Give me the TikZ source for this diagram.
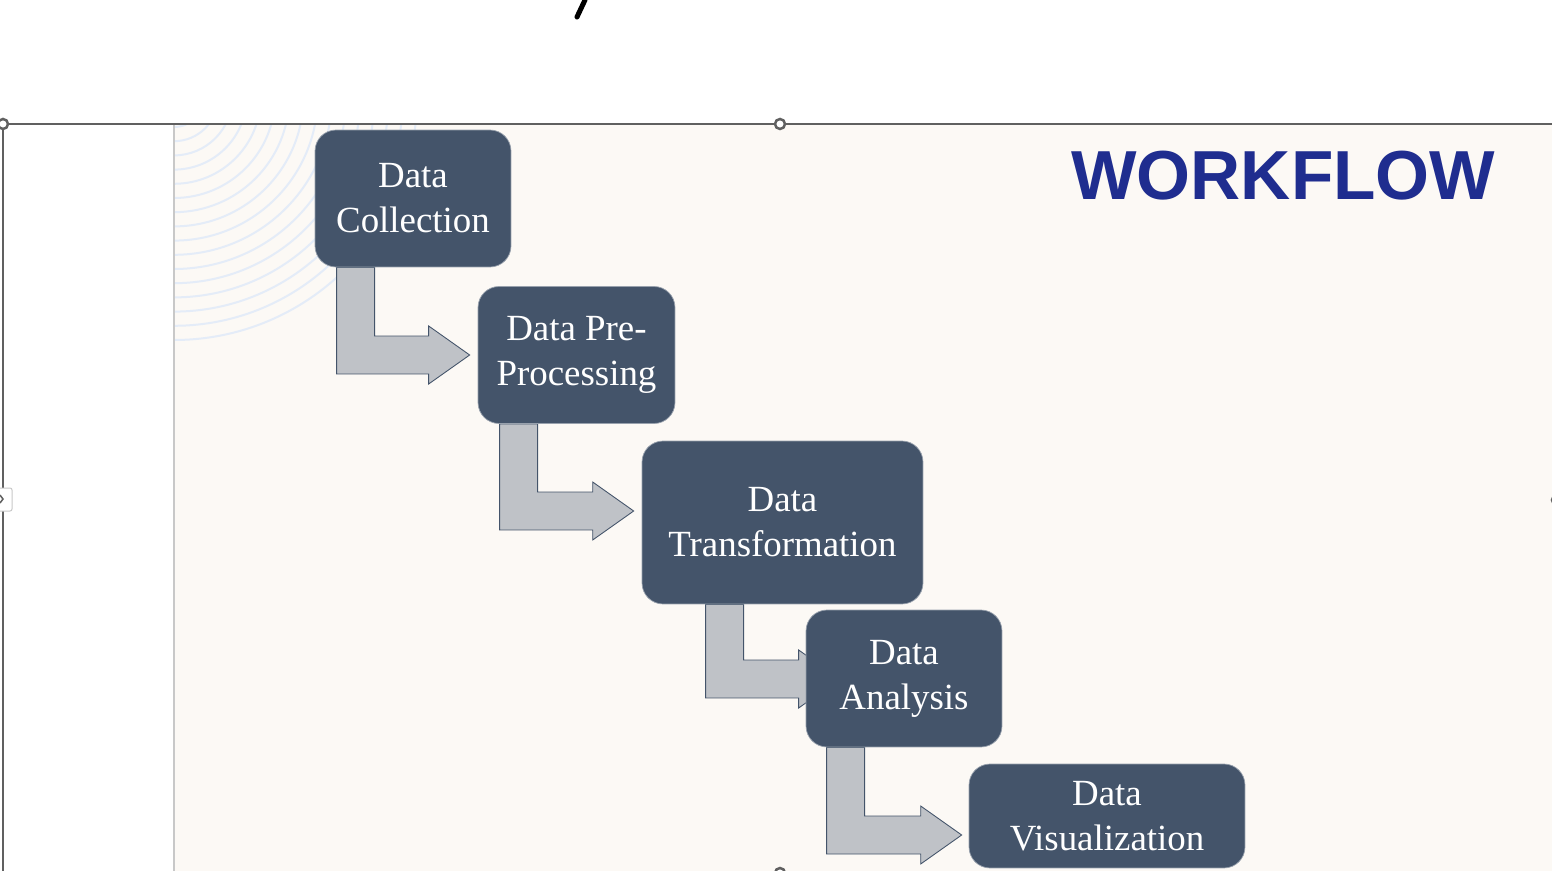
\documentclass[tikz,border=0pt]{standalone}
\usepackage{fontspec}
\setmainfont{Liberation Serif}
\newfontfamily\titlefont{Liberation Sans}
\usetikzlibrary{calc}

\definecolor{slidebg}{RGB}{252,249,245}
\definecolor{boxfill}{RGB}{68,84,106}
\definecolor{arrowfill}{RGB}{191,194,199}
\definecolor{titleblue}{RGB}{31,45,143}
\definecolor{arcblue}{RGB}{228,236,248}
\definecolor{framegray}{RGB}{96,96,96}
\definecolor{edgegray}{RGB}{200,200,200}

\pgfdeclarelayer{back}
\pgfdeclarelayer{arrows}
\pgfsetlayers{back,arrows,main}

\tikzset{
  stagebox/.style={draw=boxfill!55!white, line width=0.4pt, fill=boxfill,
    rounded corners=0.42cm, text=white, align=center, inner sep=0pt,
    font=\fontsize{21}{25.5}\selectfont},
  flowarrow/.style={draw=boxfill, line width=0.5pt, fill=arrowfill},
  handle/.style={draw=framegray, line width=0.05cm, fill=white}
}

% bent arrow: from box, to box, bar offset, tip shift x, tip shift y
\newcommand\bentarrow[5]{%
  \path (#1.south west) ++(#3,0) coordinate (bar) (#2.west) ++(#4,#5) coordinate (tip);%
  \draw[flowarrow] let \p1=(bar), \p2=(tip) in
    (\x1,\y1) -- (\x1,{\y2-0.38cm}) -- ({\x2-0.82cm},{\y2-0.38cm})
    -- ({\x2-0.82cm},{\y2-0.58cm}) -- (\x2,\y2) -- ({\x2-0.82cm},{\y2+0.58cm})
    -- ({\x2-0.82cm},{\y2+0.38cm}) -- ({\x1+0.76cm},{\y2+0.38cm})
    -- ({\x1+0.76cm},\y1) -- cycle;%
}

\begin{document}
\begin{tikzpicture}[x=0.02cm,y=-0.02cm]
            \useasboundingbox (0,0) rectangle (1552,871);

            % Drawing slide and frame
            \begin{pgfonlayer}{back}
            \fill[white] (0,0) rectangle (1552,871);
            \fill[slidebg] (174,124) rectangle (1552,871);
            \begin{scope}
            \clip (174,124) rectangle (1552,871);
            \foreach \r in {0,...,15}
              \draw[arcblue, line width=0.04cm] (174,97) circle [radius={(30+14.2*\r)*0.02cm}];
            \end{scope}
            \draw[edgegray, line width=0.03cm] (174,124) -- (174,871);%
            \draw[framegray, line width=0.03cm] (0,124) -- (1552,124);%
            \draw[framegray, line width=0.03cm] (3,124) -- (3,871);%
            \end{pgfonlayer}

            % Drawing stray glyph at top
            \draw[line width=0.1cm, line cap=round] (585,0) -- (577,17);%

            % Drawing stage boxes
            \node[stagebox, minimum width=3.92cm, minimum height=2.74cm] (collect) at (413,198.5) {Data\\Collection};
            \node[stagebox, minimum width=3.94cm, minimum height=2.74cm] (prep) at (576.5,355) {Data Pre-\\Processing};
            \node[stagebox, minimum width=5.62cm, minimum height=3.26cm] (transf) at (782.5,522.5) {Data\\Transformation};
            \node[stagebox, minimum width=3.92cm, minimum height=2.74cm] (analys) at (904,678.5) {Data\\Analysis};
            \node[stagebox, minimum width=5.52cm, minimum height=2.08cm] (visual) at (1107,816) {Data\\Visualization};

            % Drawing bent arrows
            \begin{pgfonlayer}{arrows}
            \bentarrow{collect}{prep}{22}{-8}{0}
            \bentarrow{prep}{transf}{22}{-8}{-11.5}
            \bentarrow{transf}{analys}{64}{34}{0.5}
            \bentarrow{analys}{visual}{21}{-7}{19}
            \end{pgfonlayer}

            % Marking title
            \node[anchor=base west, inner sep=0pt, text=titleblue, draw=none,
              font=\titlefont\bfseries\fontsize{39.5}{39.5}\selectfont] (title) at (1071,200) {WORKFLOW};

            % Marking selection handles
            \draw[handle] (3,124) circle [radius=0.1cm];%
            \draw[handle] (780,124) circle [radius=0.1cm];%
            \draw[handle] (780,873) circle [radius=0.1cm];%
            \draw[handle] (1557,500) circle [radius=0.1cm];%
            \draw[edgegray, fill=white, rounded corners=0.04cm, line width=0.02cm] (-4,488) rectangle (12,511);%
            \draw[framegray, line width=0.03cm] (0,495) -- (3,499) -- (0,503);%
\end{tikzpicture}
\end{document}
